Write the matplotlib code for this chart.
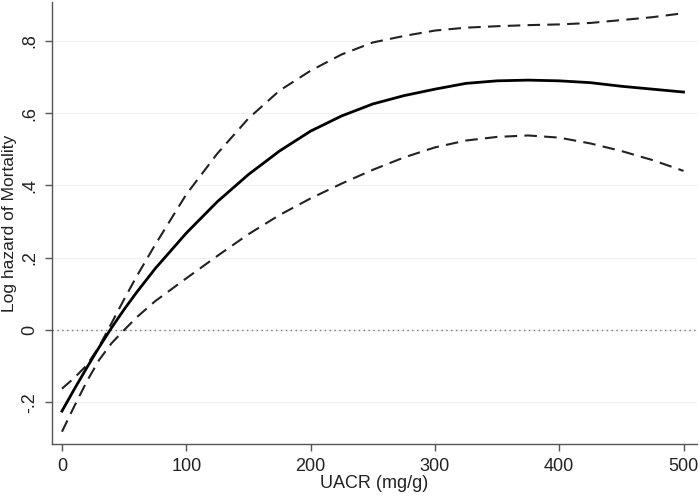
import matplotlib
matplotlib.use("Agg")
import matplotlib.pyplot as plt

plt.rcParams["font.family"] = ["Liberation Sans", "DejaVu Sans"]

# UACR (mg/g) grid and log hazard estimates
uacr = [0, 10, 20, 30, 40, 50, 60, 75, 100, 125, 150, 175, 200, 225, 250,
        275, 300, 325, 350, 375, 400, 425, 450, 475, 500]
log_hazard = [-0.224, -0.163, -0.104, -0.047, 0.007, 0.057, 0.104, 0.17, 0.268,
              0.355, 0.43, 0.495, 0.55, 0.592, 0.625, 0.648, 0.666, 0.682,
              0.689, 0.691, 0.689, 0.684, 0.674, 0.666, 0.658]
upper_ci = [-0.162, -0.132, -0.097, -0.045, 0.02, 0.085, 0.148, 0.236, 0.375,
            0.488, 0.585, 0.662, 0.717, 0.762, 0.795, 0.813, 0.828, 0.836,
            0.84, 0.843, 0.845, 0.849, 0.857, 0.865, 0.876]
lower_ci = [-0.281, -0.21, -0.142, -0.082, -0.036, 0.0, 0.035, 0.08, 0.143,
            0.205, 0.265, 0.318, 0.364, 0.405, 0.443, 0.477, 0.505, 0.524,
            0.534, 0.538, 0.532, 0.516, 0.495, 0.47, 0.44]

x_ticks = [0, 100, 200, 300, 400, 500]
y_ticks = [-0.2, 0, 0.2, 0.4, 0.6, 0.8]
y_tick_labels = ["-.2", "0", ".2", ".4", ".6", ".8"]

fig = plt.figure(figsize=(7, 4.96), dpi=100)
ax = fig.add_axes([0.0743, 0.1048, 0.9217, 0.8912])

for y in y_ticks:
    ax.axhline(y, color="#efefef", lw=0.8, zorder=0)
ax.axhline(0, color="#777777", lw=1.0, ls=(0, (1, 2.5)), zorder=1)

ax.plot(uacr, upper_ci, color="#222222", lw=1.5, ls=(0, (6, 3.5)))
ax.plot(uacr, lower_ci, color="#222222", lw=1.5, ls=(0, (6, 3.5)))
ax.plot(uacr, log_hazard, color="black", lw=2.0)

ax.set_xlim(-8, 511)
ax.set_ylim(-0.315, 0.907)
ax.set_xticks(x_ticks)
ax.set_yticks(y_ticks)
ax.set_yticklabels(y_tick_labels, rotation=90, va="center")

for side in ["top", "right"]:
    ax.spines[side].set_visible(False)
for side in ["left", "bottom"]:
    ax.spines[side].set_color("#555555")
    ax.spines[side].set_linewidth(1.0)

ax.tick_params(axis="both", length=5, width=1, color="#555555",
               labelsize=13, labelcolor="#222222", pad=5)

ax.set_xlabel("UACR (mg/g)", fontsize=13, color="#222222", labelpad=0)
ax.set_ylabel("Log hazard of Mortality", fontsize=12.5, color="#222222",
              va="center")
ax.yaxis.set_label_coords(-0.066, 0.5)

fig.savefig("out.png", dpi=100)
